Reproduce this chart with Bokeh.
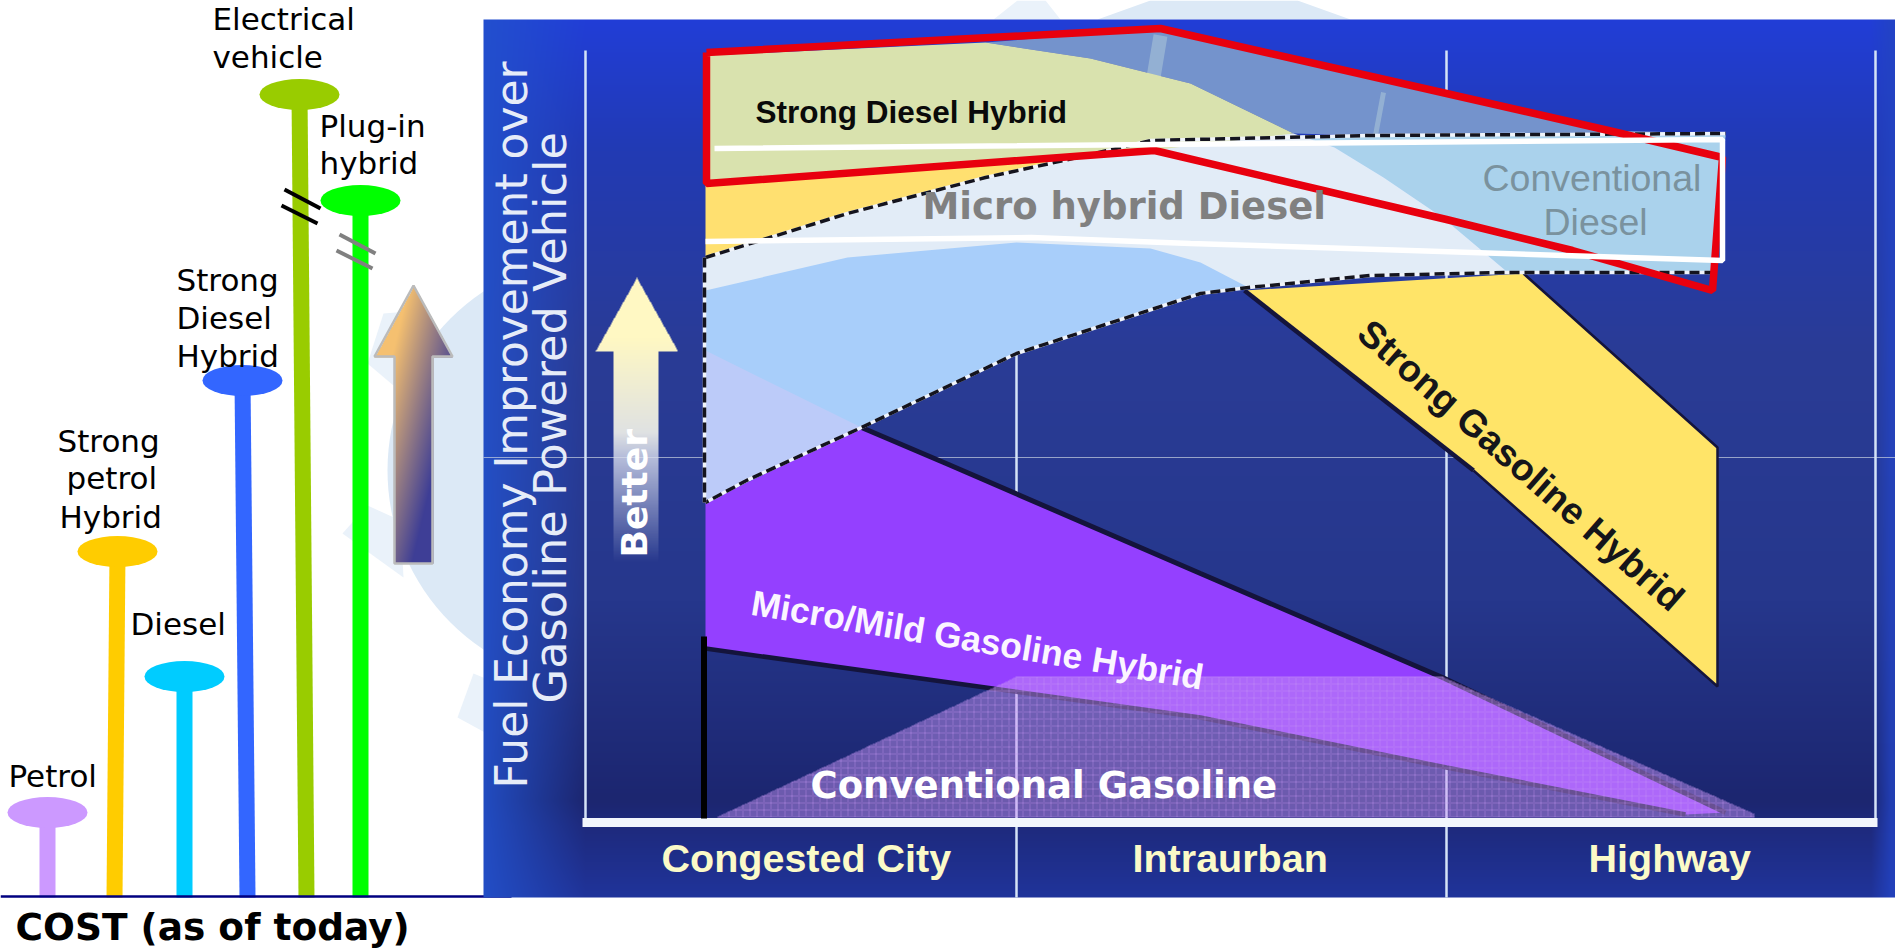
import numpy as np
from bokeh.plotting import figure
from bokeh.models import Range1d
from bokeh.core.properties import value
from bokeh.embed import file_html
from bokeh.resources import INLINE

# ---- left chart: relative cost of each powertrain
categories = ["Petrol", "Strong petrol Hybrid", "Diesel", "Strong Diesel Hybrid", "Electrical vehicle", "Plug-in hybrid"]
cost_values = [84, 345, 220, 516, 802, 696]
stem_top_x = [47, 117, 184, 242, 299, 360]
stem_bottom_x = [47, 114, 184, 247, 306, 360]
bar_colors = ["#CC99FF", "#FFCC00", "#00CCFF", "#3366FF", "#99CC00", "#00FF00"]
baseline_y = 896

label_lines = ["Petrol", "Strong", "petrol", "Hybrid", "Diesel", "Strong", "Diesel", "Hybrid", "Electrical", "vehicle", "Plug-in", "hybrid"]
label_x = [8, 57, 66, 59, 130, 176, 176, 176, 212, 212, 319, 319]
label_y = [787, 452, 489, 528, 635, 291, 329, 367, 30, 68, 137, 174]

# ---- right chart: fuel-economy regions (distance along the duty-cycle axis, improvement)
micro_diesel_top_x = [705, 847, 985, 1077, 1150, 1370, 1725]
micro_diesel_top_y = [257, 213, 177, 157, 140, 135, 133]
micro_diesel_low_x = [1714, 1505, 1370, 1248, 1200, 1016, 861, 746, 705]
micro_diesel_low_y = [272, 272, 275, 287, 293, 353, 427, 480, 502]

pale_x = [705, 847, 1016, 1150, 1200, 1248, 1370, 1505, 1442, 1383, 1334, 1293, 1150, 985, 847, 705]
pale_y = [290, 257, 242, 248, 262, 287, 275, 270, 217, 177, 147, 133, 140, 177, 213, 257]

steel_x = [985, 1160, 1446, 1608, 1725, 1370, 1293, 1190, 1090]
steel_y = [42, 28, 93, 130, 133, 135, 133, 83, 58]

orange_x = [705, 1100, 1077, 985, 847, 705]
orange_y = [183, 152, 157, 177, 213, 257]

diesel_hybrid_x = [705, 985, 1090, 1190, 1293, 1150, 705]
diesel_hybrid_y = [55, 42, 58, 83, 133, 150, 183]

red_x = [706, 1160, 1446, 1608, 1722, 1712, 1572, 1446, 1154, 706]
red_y = [52, 28, 93, 130, 157, 290, 250, 219, 150, 183]

white_x = [714, 1722, 1722, 1190, 1031, 705]
white_y = [148, 139, 260, 243, 237, 241]

gas_hybrid_x = [1244, 1523, 1717, 1717, 1473]
gas_hybrid_y = [290, 273, 447, 686, 470]

mild_top_x = [705, 861, 948, 1200, 1442, 1725]
mild_top_y = [502, 427, 464, 573, 677, 812]
mild_low_x = [1685, 1446, 1200, 985, 705]
mild_low_y = [814, 767, 717, 687, 648]

lavender_x = [705, 861, 705]
lavender_y = [350, 427, 502]

grid_x = [585, 1016, 1446, 1875]
grid_top = [50, 240, 50, 50]
grid_bottom = [823, 897, 897, 823]

cycle_labels = ["Congested City", "Intraurban", "Highway"]
cycle_x = [661, 1132, 1588]
ylabel_lines = ["Fuel Economy Improvement over", "Gasoline Powered Vehicle"]

p = figure(width=1895, height=952, x_range=Range1d(0, 1895), y_range=Range1d(952, 0),
           output_backend="svg", toolbar_location=None, min_border=0)
p.xaxis.visible = False
p.yaxis.visible = False
p.xgrid.visible = False
p.ygrid.visible = False
p.outline_line_color = None

# watermark gear behind the chart
gear = "#DCE9F6"
tooth = "#EAF2FA"
p.patch([342, 367, 400, 403], [533, 505, 520, 577], color=tooth, line_color=None)
p.patch([367, 383, 420, 393], [363, 313, 310, 385], color=tooth, line_color=None)
p.patch([457, 473, 490, 490], [717, 673, 680, 735], color=tooth, line_color=None)
p.patch([993, 1017, 1045, 1060], [19, 0, 0, 19], color=tooth, line_color=None)
p.patch([1097, 1150, 1297, 1350, 1365, 1375, 1365], [19, 0, 0, 19, 19, 0, 19], color=gear, line_color=None)
p.ellipse([602], [470], width=430, height=430, color=gear, line_color=None)


def rgba_image(rgb, alpha):
    h, w = alpha.shape
    img = np.zeros((h, w), dtype=np.uint32)
    view = img.view(dtype=np.uint8).reshape((h, w, 4))
    view[..., :3] = np.clip(rgb, 0, 255).astype(np.uint8)
    view[..., 3] = np.clip(alpha * 255, 0, 255).astype(np.uint8)
    return img


def place(rgb, alpha, x0, y0):
    h, w = alpha.shape
    p.image_rgba(image=[rgba_image(rgb, alpha)], x=[x0], y=[y0], dw=[w], dh=[h])


def label(x, y, s, size, font="DejaVu Sans", style="normal", color="black", angle=0.0, k=0.37):
    # the renderer sets alphabetic text a little low: lift it along the text's normal
    dx = -k * size * np.sin(angle)
    dy = -k * size * np.cos(angle)
    p.text([x + dx], [y + dy], text=[s], angle=angle, text_font=value(font), text_font_style=style,
           text_font_size=f"{size}px", text_color=color, text_align="left", text_baseline="alphabetic")


# cost arrow
ax0, ay0, aw, ah = 374, 285, 78, 278
yy, xx = np.mgrid[0:ah, 0:aw]
head = (yy <= 71) & (np.abs(xx - 39) <= yy * 39 / 71)
shaft = (yy > 71) & (xx >= 20) & (xx <= 58)
u = np.clip(((xx - 20) / 38 * 0.55 + (yy - 60) / 218 * 0.75)[..., None], 0, 1)
arrow_rgb = (1 - u) * np.array([245, 192, 112]) + u * np.array([62, 62, 150])
place(arrow_rgb, (head | shaft).astype(float), ax0, ay0)
p.patch([413, 452, 432, 432, 394, 394, 374], [285, 356, 356, 563, 563, 356, 356],
        fill_color=None, line_color="#BBBBBB", line_width=2.5)

# stems and caps
for top_x, bot_x, cost, col in zip(stem_top_x, stem_bottom_x, cost_values, bar_colors):
    y = baseline_y - cost
    p.patch([top_x - 8, top_x + 8, bot_x + 8, bot_x - 8], [y, y, baseline_y + 1, baseline_y + 1], color=col, line_color=None)
    p.ellipse([top_x], [y], width=80, height=31, color=col, line_color=None)
p.line([0, 511], [baseline_y, baseline_y], line_color="#000080", line_width=2.5)
p.line([284, 320], [189, 208], line_color="black", line_width=4)
p.line([281, 317], [205, 223], line_color="black", line_width=4)
p.line([339, 375], [234, 253], line_color="#808080", line_width=4)
p.line([336, 372], [250, 268], line_color="#808080", line_width=4)

for lx, ly, s in zip(label_x, label_y, label_lines):
    label(lx, ly, s, 31)
label(15, 940, "COST (as of today)", 37.5, style="bold")

# panel gradient
px0, py0, pw, ph = 483, 19, 1412, 878
yy, xx = np.mgrid[0:ph, 0:pw]
sy = yy + py0
sx = xx + px0
stops_y = [19, 150, 350, 600, 800, 825, 897]
stops_c = np.array([[33, 62, 215], [34, 58, 180], [42, 60, 150], [38, 55, 140], [28, 38, 112], [30, 42, 125], [32, 52, 155]], float)
rgb = np.stack([np.interp(sy, stops_y, stops_c[:, i]) for i in range(3)], axis=-1)
w = (np.clip((585 - sx) / 100, 0, 1) * 0.85)[..., None]
rgb = (1 - w) * rgb + w * np.array([35, 82, 205])
w = (np.clip((sx - 1870) / 20, 0, 1) * 0.8)[..., None]
rgb = (1 - w) * rgb + w * np.array([35, 68, 195])
place(rgb, np.ones((ph, pw)), px0, py0)

p.line([483, 1895], [457, 457], line_color="#C8D0E0", line_alpha=0.7, line_width=1)
for gx, gt, gb in zip(grid_x, grid_top, grid_bottom):
    p.line([gx, gx], [gt, gb], line_color="#D5E3F7", line_width=2.5)
p.line([582, 1877], [822, 822], line_color="#F2F6FC", line_width=9)

# regions
p.patch(micro_diesel_top_x + micro_diesel_low_x, micro_diesel_top_y + micro_diesel_low_y, color="#A8CEFA", line_color=None)
p.patch([1300, 1725, 1714, 1505, 1442, 1383, 1334], [135, 135, 272, 270, 217, 177, 147], color="#AAD2EC", line_color=None)
p.patch(steel_x, steel_y, color="#7493CC", line_color=None)
p.line([1160, 1150], [35, 95], line_color="#9BB8D4", line_alpha=0.8, line_width=14)
p.line([1383, 1375], [92, 135], line_color="#9BB8D4", line_alpha=0.8, line_width=5)
p.patch(pale_x, pale_y, color="#E2ECF7", line_color=None)
p.patch(lavender_x, lavender_y, color="#BCCBF9", line_color=None)
p.patch(orange_x, orange_y, color="#FFE070", line_color=None)
p.patch(diesel_hybrid_x, diesel_hybrid_y, color="#D9E2AE", line_color=None)

p.patch(mild_top_x + mild_low_x, mild_top_y + mild_low_y, color="#9440FF", line_color=None)
p.line(mild_top_x[1:], mild_top_y[1:], line_color="#14143C", line_width=5)
p.line(mild_low_x, mild_low_y, line_color="#14143C", line_width=4.5)
p.patch(gas_hybrid_x, gas_hybrid_y, color="#FFE468", line_color=None)
p.line(gas_hybrid_x[1:], gas_hybrid_y[1:], line_color="#14143C", line_width=2.5)
p.line([1473, 1244], [470, 290], line_color="#14143C", line_width=4.5)

# dashed envelopes
for xs, ys in ((micro_diesel_top_x, micro_diesel_top_y), (micro_diesel_low_x, micro_diesel_low_y), ([704, 704], [257, 502])):
    p.line(xs, ys, line_color="#F0F4FA", line_width=3.5)
    p.line(xs, ys, line_color="#14141E", line_width=3.5, line_dash="10 5")

# conventional gasoline screen
h_w, h_h = 1040, 141
yy, xx = np.mgrid[0:h_h, 0:h_w]
left = 301 - yy * 301 / 141
right = 728 + yy * 312 / 137
inside = (xx >= left) & (xx <= right)
check = ((xx + yy) % 2 == 0)
gridline = (xx % 7 == 0) | (yy % 7 == 0)
alpha = np.where(gridline, 0.66, np.where(check, 0.66, 0.28)) * inside
hatch_rgb = np.ones((h_h, h_w, 3)) * np.array([200, 150, 245])
place(hatch_rgb, alpha, 714, 676)

p.line([703.5, 703.5], [636, 818], line_color="black", line_width=6)

p.line(red_x + red_x[:1], red_y + red_y[:1], line_color="#E8000E", line_width=7.5)
p.line(white_x, white_y, line_color="white", line_width=5.5)

# chart texts
label(527, 788, ylabel_lines[0], 43.9, color="#E6ECF8", angle=np.pi / 2)
label(567, 703, ylabel_lines[1], 44.7, color="#E6ECF8", angle=np.pi / 2)

# better arrow
bx0, by0, bw, bh = 595, 277, 82, 285
yy, xx = np.mgrid[0:bh, 0:bw]
head = (yy <= 73) & (np.abs(xx - 41) <= yy * 41 / 73)
shaft = (yy > 73) & (xx >= 18) & (xx <= 62)
fade = np.clip((bh - yy) / 130, 0, 1)
u = np.clip((yy - 60) / 120, 0, 1)[..., None]
b_rgb = (1 - u) * np.array([255, 248, 195]) + u * np.array([215, 220, 235])
place(b_rgb, (head | shaft) * fade, bx0, by0)
label(647, 557, "Better", 36, style="bold", color="white", angle=np.pi / 2)

sans = "Liberation Sans"
label(755, 123, "Strong Diesel Hybrid", 31.5, font=sans, style="bold", color="#0A0A0A")
label(922, 220, "Micro hybrid Diesel", 37, style="bold", color="#808080")
label(1482, 191, "Conventional", 37.5, font=sans, color="#7A929E")
label(1543, 235, "Diesel", 37.5, font=sans, color="#7A929E")
label(1354, 337, "Strong Gasoline Hybrid", 37.5, font=sans, style="bold", color="#15151A", angle=-0.72)
label(749, 615, "Micro/Mild Gasoline Hybrid", 35.5, font=sans, style="bold", color="#FBF5FF", angle=-0.165)
label(810, 799, "Conventional Gasoline", 37, style="bold", color="white")
for cx, s in zip(cycle_x, cycle_labels):
    label(cx, 872, s, 39.5, font=sans, style="bold", color="#FBFAC8")

open("out.html", "w").write(file_html(p, INLINE))
